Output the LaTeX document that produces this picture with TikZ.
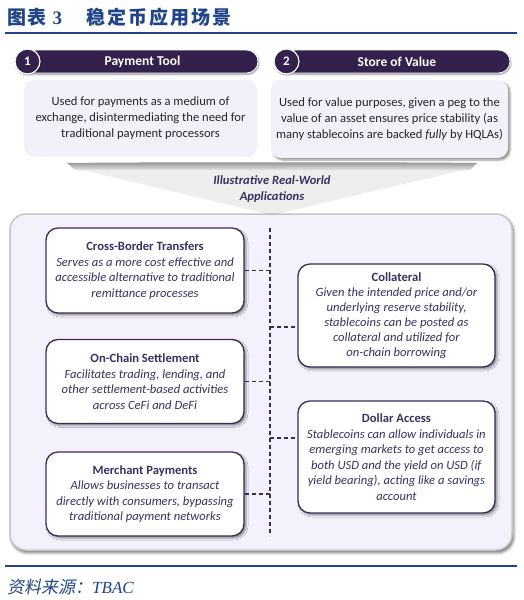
\documentclass[tikz,border=0pt]{standalone}
\usepackage{fontspec}
\setmainfont{Carlito}
\newfontfamily\cjk{Noto Sans CJK SC}
\newfontfamily\cjkit{Noto Sans CJK SC}[FakeSlant=0.2]
\newfontfamily\serifx{Liberation Serif}
\usetikzlibrary{shadows.blur}
\definecolor{titleblue}{HTML}{1F4489}
\definecolor{hdr}{HTML}{33204D}
\definecolor{boxline}{HTML}{3B2C57}
\definecolor{txt}{HTML}{3A3160}
\definecolor{lav}{HTML}{F5F1FC}
\definecolor{lavb}{HTML}{F4F0FA}
\begin{document}
\begin{tikzpicture}[x=1pt,y=-1pt,
  hdrbar/.style={fill=hdr,draw=white,line width=0.8pt,rounded corners=11.5pt,
    minimum height=23pt,inner sep=0pt,text=white,font=\fontsize{13.5}{15}\selectfont\bfseries,
    blur shadow={shadow xshift=1pt,shadow yshift=-1.5pt,shadow blur radius=1.5pt,shadow opacity=40}},
  numcirc/.style={circle,fill=hdr,draw=white,line width=1.2pt,minimum size=25pt,inner sep=0pt,
    text=white,font=\fontsize{13}{15}\selectfont\bfseries,
    blur shadow={shadow xshift=0.5pt,shadow yshift=-1pt,shadow blur radius=1.5pt,shadow opacity=50}},
  descbox/.style={fill=lavb,rounded corners=10pt,inner sep=0pt,align=center,text=black!85,
    font=\fontsize{12.6}{16}\selectfont},
  appbox/.style={fill=white,draw=boxline,line width=1.3pt,rounded corners=12pt,inner sep=0pt,
    align=center,text=txt,font=\fontsize{12.6}{15.5}\selectfont,
    blur shadow={shadow xshift=2pt,shadow yshift=-2pt,shadow blur radius=2pt,shadow opacity=45}},
  conn/.style={draw=boxline,line width=1.1pt,dash pattern=on 4pt off 3pt},
  rulex/.style={draw=titleblue,line width=1.6pt}]
\useasboundingbox (0,0) rectangle (524,600);

% title
\node[anchor=west,text=titleblue,inner sep=0pt] (title) at (7,17)
  {{\cjk\bfseries\fontsize{19}{22}\selectfont\addfontfeature{LetterSpace=8}图表}\hspace{6pt}{\serifx\bfseries\fontsize{19}{22}\selectfont 3}\hspace{24pt}{\cjk\bfseries\fontsize{19}{22}\selectfont\addfontfeature{LetterSpace=11}稳定币应用场景}};
\coordinate (r1a) at (5,33); \coordinate (r1b) at (517,33);
\draw[rulex] (r1a) -- (r1b);

% header bars
\node[hdrbar,minimum width=233pt] (h1) at (141.5,61.5) {\hspace{2pt}Payment Tool};
\node[numcirc] (c1) at (27.5,61.5) {1};
\node[hdrbar,minimum width=226pt] (h2) at (397,61.5) {Store of Value};
\node[numcirc] (c2) at (286.5,61.5) {2};

% description boxes
\node[descbox,minimum width=233pt,minimum height=77pt] (d1) at (140.5,118.5)
  {Used for payments as a medium of\\exchange, disintermediating the need for\\traditional payment processors};
\node[descbox,minimum width=237pt,minimum height=78pt,
  blur shadow={shadow xshift=2pt,shadow yshift=-2pt,shadow blur radius=2pt,shadow opacity=45}] (d2) at (389.5,119)
  {Used for value purposes, given a peg to the\\value of an asset ensures price stability (as\\many stablecoins are backed \textit{fully} by HQLAs)};

% funnel
\fill[gray!13] (70,167) -- (476,167) -- (272,215) -- cycle;
\shade[top color=gray!85,bottom color=gray!20] (67,163) .. controls (150,162) and (400,162) .. (477,163)
  -- (470,170) -- (75,170) -- cycle;
\node[align=center,text=txt,font=\fontsize{12.6}{16}\selectfont\bfseries\itshape] (illus) at (272,189)
  {Illustrative Real-World\\Applications};

% panel
\node[fill=lav,draw=gray!45,line width=1.5pt,rounded corners=16pt,minimum width=502pt,minimum height=336pt,
  blur shadow={shadow xshift=1.5pt,shadow yshift=-2.5pt,shadow blur radius=3pt,shadow opacity=60}] (panel) at (261,382) {};

% app boxes
\node[appbox,minimum width=198pt,minimum height=85pt] (cb) at (145,270.5)
  {\textbf{Cross-Border Transfers}\\\textit{Serves as a more cost effective and}\\\textit{accessible alternative to traditional}\\\textit{remittance processes}};
\node[appbox,minimum width=198pt,minimum height=84pt] (oc) at (145,381.5)
  {\textbf{On-Chain Settlement}\\\textit{Facilitates trading, lending, and}\\\textit{other settlement-based activities}\\\textit{across CeFi and DeFi}};
\node[appbox,minimum width=198pt,minimum height=84pt] (mp) at (145,494)
  {\textbf{Merchant Payments}\\\textit{Allows businesses to transact}\\\textit{directly with consumers, bypassing}\\\textit{traditional payment networks}};
\node[appbox,minimum width=197pt,minimum height=103pt,font=\fontsize{12.6}{15}\selectfont] (co) at (396.5,315.5)
  {\textbf{Collateral}\\\textit{Given the intended price and/or}\\\textit{underlying reserve stability,}\\\textit{stablecoins can be posted as}\\\textit{collateral and utilized for}\\\textit{on-chain borrowing}};
\node[appbox,minimum width=197pt,minimum height=112pt,font=\fontsize{12.6}{15.5}\selectfont] (da) at (396.5,457)
  {\textbf{Dollar Access}\\\textit{Stablecoins can allow individuals in}\\\textit{emerging markets to get access to}\\\textit{both USD and the yield on USD (if}\\\textit{yield bearing), acting like a savings}\\\textit{account}};

% connectors
\coordinate (vtop) at (270,228); \coordinate (vbot) at (270,536);
\draw[conn] (vtop) -- (vbot);
\draw[conn] (cb.east) -- (cb.east -| vtop);
\draw[conn] (oc.east) -- (oc.east -| vtop);
\draw[conn] (mp.east) -- (mp.east -| vtop);
\draw[conn] ([yshift=-11.5pt]co.west -| vtop) -- ([yshift=-11.5pt]co.west);
\draw[conn] ([yshift=19pt]da.west -| vtop) -- ([yshift=19pt]da.west);

% bottom rule and source
\coordinate (r2a) at (5,566); \coordinate (r2b) at (517,566);
\draw[rulex] (r2a) -- (r2b);
\node[anchor=west,text=titleblue,inner sep=0pt] (src) at (7,587)
  {{\cjkit\fontsize{17}{20}\selectfont 资料来源：}{\serifx\itshape\fontsize{17}{20}\selectfont TBAC}};
\end{tikzpicture}
\end{document}
